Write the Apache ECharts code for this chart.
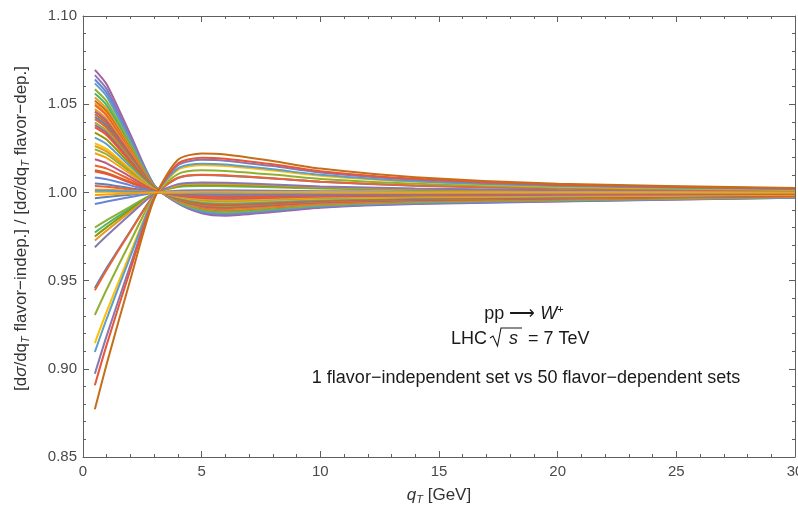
<!DOCTYPE html>
<html><head><meta charset="utf-8">
<script src="https://cdn.jsdelivr.net/npm/echarts@6/dist/echarts.min.js"></script>
<style>html,body{margin:0;padding:0;background:#fff}#c{width:798px;height:509px}</style>
</head><body><div id="c"></div><script>
// q_T sample points [GeV]
const qT = [0.5, 1, 2, 3, 4, 5, 6, 8, 10, 14, 20, 30];

// ratio curves, one per flavor-dependent set
const set01 = [1.0695, 1.0612, 1.0327, 1.0042, 0.9937, 0.9882, 0.9868, 0.9889, 0.9913, 0.9934, 0.9948, 0.9969];
const set02 = [1.0665, 1.0585, 1.0313, 1.0040, 0.9940, 0.9887, 0.9874, 0.9894, 0.9917, 0.9937, 0.9950, 0.9970];
const set03 = [1.0640, 1.0563, 1.0301, 1.0038, 0.9942, 0.9891, 0.9878, 0.9898, 0.9920, 0.9939, 0.9952, 0.9971];
const set04 = [1.0618, 1.0544, 1.0290, 1.0037, 0.9944, 0.9895, 0.9883, 0.9901, 0.9923, 0.9941, 0.9954, 0.9972];
const set05 = [1.0585, 1.0515, 1.0275, 1.0035, 0.9947, 0.9901, 0.9889, 0.9906, 0.9927, 0.9944, 0.9956, 0.9974];
const set06 = [1.0560, 1.0493, 1.0263, 1.0034, 0.9950, 0.9905, 0.9894, 0.9910, 0.9930, 0.9947, 0.9958, 0.9975];
const set07 = [1.0538, 1.0473, 1.0253, 1.0032, 0.9952, 0.9909, 0.9898, 0.9914, 0.9933, 0.9949, 0.9960, 0.9976];
const set08 = [1.0519, 1.0457, 1.0244, 1.0031, 0.9953, 0.9912, 0.9901, 0.9917, 0.9935, 0.9951, 0.9961, 0.9977];
const set09 = [1.0505, 1.0444, 1.0237, 1.0030, 0.9955, 0.9914, 0.9904, 0.9919, 0.9937, 0.9952, 0.9962, 0.9977];
const set10 = [1.0494, 1.0435, 1.0232, 1.0030, 0.9956, 0.9916, 0.9906, 0.9921, 0.9938, 0.9953, 0.9963, 0.9978];
const set11 = [1.0472, 1.0415, 1.0222, 1.0028, 0.9958, 0.9920, 0.9910, 0.9925, 0.9941, 0.9955, 0.9965, 0.9979];
const set12 = [1.0458, 1.0403, 1.0215, 1.0027, 0.9959, 0.9922, 0.9913, 0.9927, 0.9943, 0.9956, 0.9966, 0.9979];
const set13 = [1.0443, 1.0390, 1.0208, 1.0027, 0.9960, 0.9925, 0.9916, 0.9929, 0.9945, 0.9958, 0.9967, 0.9980];
const set14 = [1.0428, 1.0377, 1.0201, 1.0026, 0.9961, 0.9927, 0.9919, 0.9932, 0.9947, 0.9959, 0.9968, 0.9981];
const set15 = [1.0415, 1.0365, 1.0195, 1.0025, 0.9963, 0.9929, 0.9921, 0.9934, 0.9948, 0.9961, 0.9969, 0.9981];
const set16 = [1.0395, 1.0348, 1.0186, 1.0024, 0.9964, 0.9933, 0.9925, 0.9937, 0.9951, 0.9963, 0.9970, 0.9982];
const set17 = [1.0381, 1.0335, 1.0179, 1.0023, 0.9966, 0.9935, 0.9928, 0.9939, 0.9952, 0.9964, 0.9971, 0.9983];
const set18 = [1.0368, 1.0324, 1.0173, 1.0022, 0.9967, 0.9937, 0.9930, 0.9941, 0.9954, 0.9965, 0.9972, 0.9983];
const set19 = [1.0339, 1.0298, 1.0159, 1.0020, 0.9970, 0.9942, 0.9936, 0.9946, 0.9958, 0.9968, 0.9975, 0.9985];
const set20 = [1.0310, 1.0273, 1.0146, 1.0019, 0.9972, 0.9947, 0.9941, 0.9950, 0.9961, 0.9971, 0.9977, 0.9986];
const set21 = [1.0278, 1.0245, 1.0131, 1.0017, 0.9975, 0.9953, 0.9947, 0.9956, 0.9965, 0.9974, 0.9979, 0.9988];
const set22 = [1.0263, 1.0231, 1.0124, 1.0016, 0.9976, 0.9955, 0.9950, 0.9958, 0.9967, 0.9975, 0.9980, 0.9988];
const set23 = [1.0244, 1.0215, 1.0115, 1.0015, 0.9978, 0.9959, 0.9954, 0.9961, 0.9970, 0.9977, 0.9982, 0.9989];
const set24 = [1.0222, 1.0195, 1.0104, 1.0013, 0.9980, 0.9962, 0.9958, 0.9964, 0.9972, 0.9979, 0.9983, 0.9990];
const set25 = [1.0188, 1.0165, 1.0088, 1.0011, 0.9983, 0.9968, 0.9964, 0.9970, 0.9977, 0.9982, 0.9986, 0.9992];
const set26 = [1.0153, 1.0135, 1.0072, 1.0009, 0.9986, 0.9974, 0.9971, 0.9976, 0.9981, 0.9985, 0.9989, 0.9993];
const set27 = [1.0125, 1.0110, 1.0059, 1.0008, 0.9989, 0.9979, 0.9976, 0.9980, 0.9984, 0.9988, 0.9991, 0.9994];
const set28 = [1.0118, 1.0104, 1.0055, 1.0007, 0.9989, 0.9980, 0.9978, 0.9981, 0.9985, 0.9989, 0.9991, 0.9995];
const set29 = [1.0085, 1.0075, 1.0040, 1.0005, 0.9992, 0.9986, 0.9984, 0.9986, 0.9989, 0.9992, 0.9994, 0.9996];
const set30 = [1.0051, 1.0045, 1.0024, 1.0003, 0.9995, 0.9991, 0.9990, 0.9992, 0.9994, 0.9995, 0.9996, 0.9998];
const set31 = [1.0036, 1.0032, 1.0017, 1.0002, 0.9997, 0.9994, 0.9993, 0.9994, 0.9996, 0.9997, 0.9997, 0.9998];
const set32 = [1.0017, 1.0015, 1.0008, 1.0001, 0.9998, 0.9997, 0.9997, 0.9997, 0.9998, 0.9998, 0.9999, 0.9999];
const set33 = [1.0002, 1.0002, 1.0001, 1.0000, 1.0000, 1.0000, 1.0000, 1.0000, 1.0000, 1.0000, 1.0000, 1.0000];
const set34 = [1.0010, 1.0009, 1.0005, 1.0001, 0.9999, 0.9998, 0.9998, 0.9998, 0.9999, 0.9999, 0.9999, 1.0000];
const set35 = [0.9967, 0.9974, 0.9987, 0.9999, 1.0005, 1.0006, 1.0006, 1.0005, 1.0004, 1.0002, 1.0001, 1.0001];
const set36 = [0.9934, 0.9948, 0.9974, 0.9998, 1.0010, 1.0012, 1.0012, 1.0010, 1.0007, 1.0005, 1.0003, 1.0001];
const set37 = [0.9801, 0.9843, 0.9920, 0.9994, 1.0030, 1.0036, 1.0035, 1.0029, 1.0022, 1.0014, 1.0008, 1.0004];
const set38 = [0.9773, 0.9821, 0.9909, 0.9993, 1.0034, 1.0041, 1.0040, 1.0033, 1.0025, 1.0016, 1.0009, 1.0005];
const set39 = [0.9750, 0.9803, 0.9900, 0.9993, 1.0038, 1.0045, 1.0044, 1.0036, 1.0028, 1.0018, 1.0010, 1.0005];
const set40 = [0.9727, 0.9784, 0.9891, 0.9992, 1.0041, 1.0049, 1.0048, 1.0040, 1.0030, 1.0019, 1.0011, 1.0005];
const set41 = [0.9689, 0.9754, 0.9876, 0.9991, 1.0047, 1.0056, 1.0054, 1.0045, 1.0034, 1.0022, 1.0012, 1.0006];
const set42 = [0.9458, 0.9572, 0.9783, 0.9984, 1.0081, 1.0098, 1.0095, 1.0079, 1.0060, 1.0038, 1.0022, 1.0011];
const set43 = [0.9445, 0.9562, 0.9778, 0.9983, 1.0083, 1.0100, 1.0097, 1.0080, 1.0061, 1.0039, 1.0022, 1.0011];
const set44 = [0.9305, 0.9451, 0.9722, 0.9979, 1.0104, 1.0125, 1.0122, 1.0101, 1.0076, 1.0049, 1.0028, 1.0014];
const set45 = [0.9146, 0.9325, 0.9658, 0.9974, 1.0128, 1.0154, 1.0149, 1.0124, 1.0094, 1.0060, 1.0034, 1.0017];
const set46 = [0.9095, 0.9285, 0.9638, 0.9973, 1.0136, 1.0163, 1.0158, 1.0131, 1.0100, 1.0063, 1.0036, 1.0018];
const set47 = [0.8972, 0.9188, 0.9589, 0.9969, 1.0154, 1.0185, 1.0180, 1.0149, 1.0113, 1.0072, 1.0041, 1.0021];
const set48 = [0.8907, 0.9137, 0.9563, 0.9967, 1.0164, 1.0197, 1.0191, 1.0159, 1.0120, 1.0077, 1.0044, 1.0022];
const set49 = [0.8770, 0.9028, 0.9508, 0.9963, 1.0185, 1.0221, 1.0215, 1.0178, 1.0135, 1.0086, 1.0049, 1.0025];
const set50 = [0.9985, 0.9988, 0.9994, 1.0000, 1.0002, 1.0003, 1.0003, 1.0002, 1.0002, 1.0001, 1.0001, 1.0000];

const sets = [set01,set02,set03,set04,set05,set06,set07,set08,set09,set10,
              set11,set12,set13,set14,set15,set16,set17,set18,set19,set20,
              set21,set22,set23,set24,set25,set26,set27,set28,set29,set30,
              set31,set32,set33,set34,set35,set36,set37,set38,set39,set40,
              set41,set42,set43,set44,set45,set46,set47,set48,set49,set50];

const setColors = [
 '#A5609D','#8778B3','#6685D9','#5D9EC7','#8FB032','#47B66D','#E19C24','#C56E1A','#F89F13','#EB6235',
 '#E19C24','#BC5B80','#C56E1A','#5E81B5','#EB6235','#8FB032','#A5609D','#E95536','#929600','#5D9EC7',
 '#FFBF00','#E19C24','#8FB032','#F89F13','#BC5B80','#EB6235','#C56E1A','#E95536','#6685D9','#5E81B5',
 '#EB6235','#E19C24','#FFBF00','#5D9EC7','#5E81B5','#6685D9','#8FB032','#47B66D','#929600','#E19C24',
 '#8778B3','#5E81B5','#EB6235','#8FB032','#FFBF00','#5D9EC7','#8778B3','#E95536','#C56E1A','#F89F13'];

const FONT = "'Liberation Sans', Arial, Helvetica, sans-serif";
const FRAME = '#5f5f5f';
const LABEL = '#4a4a4a';

const chart = echarts.init(document.getElementById('c'), null, {renderer: 'canvas'});

function xAx(pos, showLabel, extra) {
  return Object.assign({
    type: 'value', position: pos, min: 0, max: 30, interval: 5,
    axisLine: {show: true, onZero: false, lineStyle: {color: FRAME, width: 1}},
    axisTick: {show: true, inside: true, length: 6, lineStyle: {color: FRAME}},
    minorTick: {show: true, splitNumber: 5, length: 3, lineStyle: {color: FRAME}},
    splitLine: {show: false},
    axisLabel: {show: showLabel, color: LABEL, fontSize: 15, fontFamily: FONT, margin: 7,
                showMaxLabel: true, showMinLabel: true, alignMinLabel: 'center', alignMaxLabel: 'center',
                hideOverlap: false}
  }, extra || {});
}
function yAx(pos, showLabel, extra) {
  return Object.assign({
    type: 'value', position: pos, min: 0.85, max: 1.10, interval: 0.05,
    axisLine: {show: true, onZero: false, lineStyle: {color: FRAME, width: 1}},
    axisTick: {show: true, inside: true, length: 6, lineStyle: {color: FRAME}},
    minorTick: {show: true, splitNumber: 5, length: 3, lineStyle: {color: FRAME}},
    splitLine: {show: false},
    axisLabel: {show: showLabel, color: LABEL, fontSize: 15, fontFamily: FONT, margin: 6,
                showMaxLabel: true, showMinLabel: true,
                formatter: v => v.toFixed(2)}
  }, extra || {});
}

const series = sets.map((vals, k) => ({
  type: 'line',
  xAxisIndex: 0, yAxisIndex: 0,
  data: qT.map((x, i) => [x, vals[i]]),
  symbol: 'none', showSymbol: false, smooth: 0.25, silent: true,
  lineStyle: {width: 2, color: setColors[k]},
  itemStyle: {color: setColors[k]},
  emphasis: {disabled: true}
}));

const txt = {color: '#1a1a1a', fontSize: 18, fontFamily: FONT};
const nameRich = {
  t: {fontSize: 17, fontFamily: FONT, color: '#333', lineHeight: 20},
  i: {fontSize: 17, fontFamily: FONT, color: '#333', fontStyle: 'italic', lineHeight: 20},
  s: {fontSize: 11, fontFamily: FONT, color: '#333', fontStyle: 'italic', lineHeight: 11, verticalAlign: 'bottom'}
};

chart.setOption({
  animation: false,
  backgroundColor: '#ffffff',
  grid: {left: 83, right: 3, top: 16, bottom: 52, containLabel: false, outerBoundsMode: 'none'},
  xAxis: [
    xAx('bottom', true, {
      name: '{i|q}{s|T}{t| [GeV]}', nameLocation: 'middle', nameGap: 28,
      nameTextStyle: {color: '#333', fontSize: 17, fontFamily: FONT, rich: nameRich}
    }),
    xAx('top', false)
  ],
  yAxis: [
    yAx('left', true, {
      name: '{t|[d}{i|σ}{t|/dq}{s|T}{t| flavor−indep.] / [d}{i|σ}{t|/dq}{s|T}{t| flavor−dep.]}',
      nameLocation: 'middle', nameGap: 52, nameRotate: 90,
      nameTextStyle: {color: '#333', fontSize: 17, fontFamily: FONT, padding: [0, 0, 0, 16], rich: nameRich}
    }),
    yAx('right', false)
  ],
  series: series,
  graphic: [
    {type: 'text', x: 524, y: 314, z: 100,
     style: {text: '{t|pp ⟶ }{i|W}{u|+}', align: 'center', verticalAlign: 'middle', fill: '#1a1a1a',
             font: '18px ' + FONT,
             rich: {t: Object.assign({lineHeight: 20}, txt),
                    i: Object.assign({lineHeight: 20, fontStyle: 'italic'}, txt),
                    u: {fontSize: 11, fontFamily: FONT, color: '#1a1a1a', lineHeight: 11, verticalAlign: 'top'}}}},
    {type: 'text', x: 487, y: 339, z: 100,
     style: {text: 'LHC', align: 'right', verticalAlign: 'middle', fill: '#1a1a1a', font: '18px ' + FONT}},
    {type: 'polyline', z: 100,
     shape: {points: [[490, 338], [493, 336], [497.5, 346], [501, 328], [522, 328]]},
     style: {stroke: '#1a1a1a', lineWidth: 1.1, fill: null}},
    {type: 'text', x: 509, y: 339, z: 100,
     style: {text: 's', align: 'left', verticalAlign: 'middle', fill: '#1a1a1a', font: 'italic 18px ' + FONT}},
    {type: 'text', x: 528, y: 339, z: 100,
     style: {text: '= 7 TeV', align: 'left', verticalAlign: 'middle', fill: '#1a1a1a', font: '18px ' + FONT}},
    {type: 'text', x: 526, y: 378, z: 100,
     style: {text: '1 flavor−independent set vs 50 flavor−dependent sets', align: 'center', verticalAlign: 'middle',
             fill: '#1a1a1a', font: '18px ' + FONT}}
  ]
});
</script></body></html>
